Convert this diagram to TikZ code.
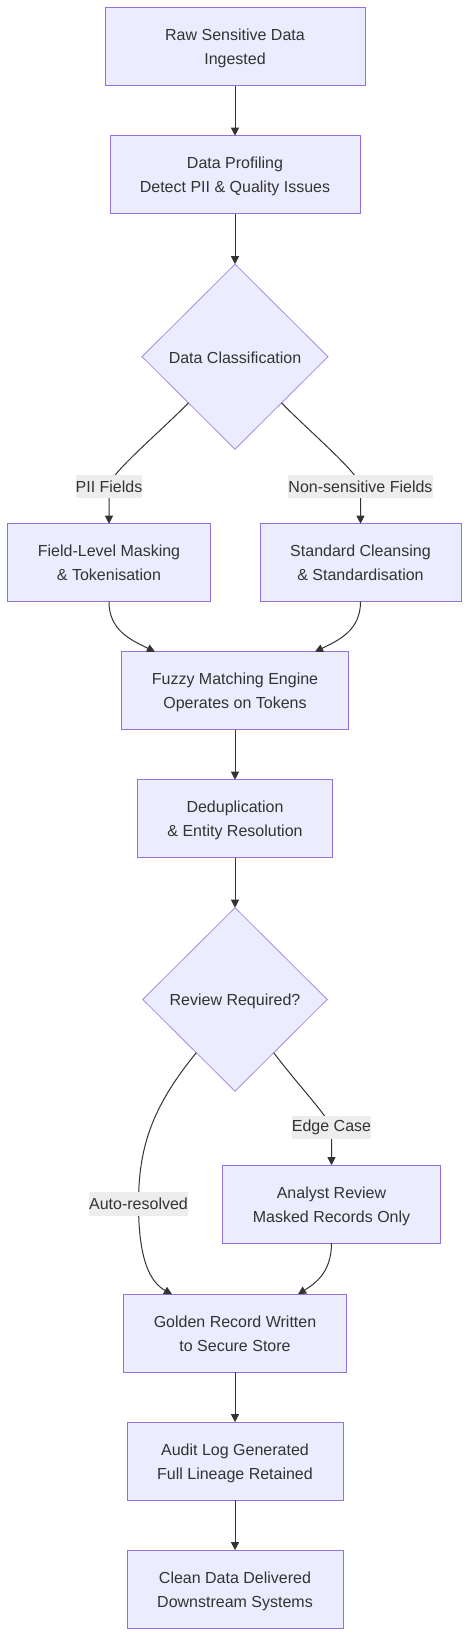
\documentclass[tikz,border=0pt]{standalone}
\usepackage{fontspec}
\setmainfont{Liberation Sans}
\definecolor{NodeFill}{HTML}{ECECFF}
\definecolor{NodeLine}{HTML}{9370DB}
\definecolor{InkGrey}{HTML}{333333}
\definecolor{LabelFill}{HTML}{EDEDED}
\usetikzlibrary{arrows.meta, positioning, shapes.geometric}

\begin{document}
\begin{tikzpicture}[x=1pt, y=1pt,
        node distance=50pt,
        block/.style={rectangle, draw=NodeLine, fill=NodeFill, line width=1pt, outer sep=0pt, minimum height=78pt, align=center, text=InkGrey, font=\fontsize{16}{24}\selectfont,
            execute at begin node={\rule{0pt}{41.5pt}}, execute at end node={\rule[-5.5pt]{0pt}{5.5pt}}},
        decision/.style={diamond, draw=NodeLine!80, fill=NodeFill, line width=0.8pt, outer sep=0pt, inner sep=0pt, minimum width=186pt, minimum height=185pt, align=center, text=InkGrey, font=\fontsize{16}{24}\selectfont,
            execute at begin node={\rule{0pt}{18.5pt}}, execute at end node={\rule[-5.5pt]{0pt}{5.5pt}}},
        edgelabel/.style={fill=LabelFill, inner sep=0pt, minimum height=23.5pt, text=InkGrey, font=\fontsize{16}{24}\selectfont},
        arrow/.style={draw=InkGrey, line width=1pt, -{Triangle[length=8pt, width=8pt]}}
    ]
        \useasboundingbox (0,0) rectangle (469,-1637);

        \node[block, minimum width=260pt] (raw) at (235,-46.7) {Raw Sensitive Data\\Ingested};
        \node[block, minimum width=250pt, below=of raw] (profiling) {Data Profiling\\Detect PII \& Quality Issues};
        \node[decision, below=50.5pt of profiling] (classify) {Data Classification};
        \node[block, minimum width=203pt, below=74.5pt of classify, xshift=-126pt] (masking) {Field-Level Masking\\\& Tokenisation};
        \node[block, minimum width=201pt, below=74.5pt of classify, xshift=125.5pt] (cleansing) {Standard Cleansing\\\& Standardisation};
        \node[block, minimum width=227pt, below=of masking, xshift=126pt] (fuzzy) {Fuzzy Matching Engine\\Operates on Tokens};
        \node[block, minimum width=195.5pt, below=of fuzzy] (dedup) {Deduplication\\\& Entity Resolution};
        \node[decision, minimum width=184.5pt, minimum height=183.5pt, below=of dedup] (review) {Review Required?};
        \node[block, minimum width=217.5pt, below=74pt of review, xshift=96.5pt] (analyst) {Analyst Review\\Masked Records Only};
        \node[block, minimum width=223pt, below=51pt of analyst, xshift=-96.5pt] (golden) {Golden Record Written\\to Secure Store};
        \node[block, minimum width=216pt, below=of golden] (audit) {Audit Log Generated\\Full Lineage Retained};
        \node[block, minimum width=216pt, below=of audit] (clean) {Clean Data Delivered\\Downstream Systems};

        \draw[arrow] (raw) -- (profiling);
        \draw[arrow] (profiling) -- (classify);
        \draw[arrow] (classify.south west) .. controls +(-35,-35) and +(0,12) .. ([yshift=37pt]masking.north) node[edgelabel] {PII Fields} -- (masking.north);
        \draw[arrow] (classify.south east) .. controls +(35,-35) and +(0,12) .. ([yshift=37pt]cleansing.north) node[edgelabel] {Non-sensitive Fields} -- (cleansing.north);
        \draw[arrow] (masking.south) .. controls +(0,-28) and +(-25,12) .. ([xshift=-80pt]fuzzy.north);
        \draw[arrow] (cleansing.south) .. controls +(0,-28) and +(25,12) .. ([xshift=80pt]fuzzy.north);
        \draw[arrow] (fuzzy) -- (dedup);
        \draw[arrow] (dedup) -- (review);
        \draw[arrow] (review.-54) .. controls +(25,-33) and +(-4,12) .. ([yshift=37.5pt]analyst.north) node[edgelabel] {Edge Case} -- (analyst.north);
        \draw[arrow] (review.234) .. controls +(-45,-55) and +(0,56) .. ([xshift=-193pt]analyst.center) node[edgelabel] {Auto-resolved} .. controls +(0,-55) and +(-22,12) .. ([xshift=-63pt]golden.north);
        \draw[arrow] (analyst.south) .. controls +(0,-30) and +(16,10) .. ([xshift=63pt]golden.north);
        \draw[arrow] (golden) -- (audit);
        \draw[arrow] (audit) -- (clean);
    \end{tikzpicture}
\end{document}
